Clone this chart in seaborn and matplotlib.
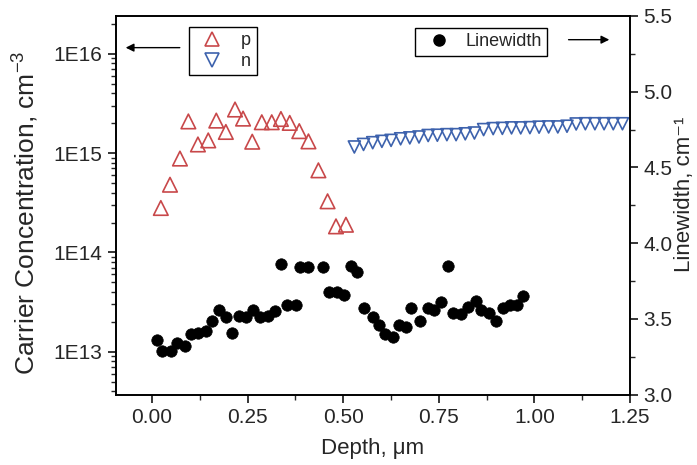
import numpy as np
import matplotlib
matplotlib.use("Agg")
import matplotlib.pyplot as plt
import matplotlib.ticker as mticker
from matplotlib.lines import Line2D
import seaborn as sns

# p-type carrier concentration (left axis)
p_depth = [0.023, 0.047, 0.073, 0.095, 0.120, 0.147, 0.168, 0.193, 0.217, 0.238, 0.262,
           0.287, 0.313, 0.337, 0.360, 0.385, 0.409, 0.435, 0.459, 0.481, 0.507]
p_conc = [2.8e14, 4.8e14, 8.8e14, 2.08e15, 1.22e15, 1.34e15, 2.12e15, 1.63e15, 2.74e15, 2.22e15, 1.30e15,
          2.04e15, 2.04e15, 2.20e15, 2.01e15, 1.66e15, 1.31e15, 6.7e14, 3.27e14, 1.83e14, 1.90e14]

# n-type carrier concentration (left axis)
n_depth = [0.529, 0.553, 0.577, 0.601, 0.625, 0.650, 0.674, 0.698, 0.722, 0.746,
           0.771, 0.795, 0.819, 0.843, 0.867, 0.892, 0.916, 0.940, 0.964, 0.988,
           1.012, 1.037, 1.061, 1.085, 1.109, 1.133, 1.158, 1.182, 1.206, 1.230]
n_conc = [1.15e15, 1.22e15, 1.27e15, 1.31e15, 1.34e15, 1.39e15, 1.42e15, 1.45e15, 1.50e15, 1.51e15,
          1.53e15, 1.53e15, 1.56e15, 1.59e15, 1.72e15, 1.76e15, 1.77e15, 1.79e15, 1.79e15, 1.80e15,
          1.82e15, 1.83e15, 1.83e15, 1.86e15, 1.96e15, 1.97e15, 1.97e15, 1.97e15, 1.97e15, 1.97e15]

# Raman linewidth (right axis)
lw_depth = [0.012, 0.027, 0.049, 0.066, 0.086, 0.101, 0.121, 0.141, 0.158, 0.175,
            0.193, 0.210, 0.228, 0.245, 0.264, 0.282, 0.302, 0.321, 0.337, 0.354,
            0.376, 0.387, 0.409, 0.446, 0.463, 0.484, 0.503, 0.520, 0.537, 0.555,
            0.577, 0.594, 0.610, 0.629, 0.647, 0.664, 0.677, 0.701, 0.721, 0.738,
            0.756, 0.773, 0.788, 0.808, 0.825, 0.846, 0.861, 0.880, 0.900, 0.917,
            0.936, 0.954, 0.971]
lw_value = [3.36, 3.29, 3.29, 3.34, 3.32, 3.40, 3.41, 3.42, 3.49, 3.56,
            3.51, 3.41, 3.52, 3.51, 3.56, 3.51, 3.52, 3.55, 3.86, 3.59,
            3.59, 3.84, 3.84, 3.84, 3.68, 3.68, 3.66, 3.85, 3.81, 3.57,
            3.51, 3.46, 3.40, 3.38, 3.46, 3.45, 3.57, 3.49, 3.57, 3.56,
            3.61, 3.85, 3.54, 3.53, 3.58, 3.62, 3.56, 3.54, 3.49, 3.57,
            3.59, 3.59, 3.65]

RED = "#c8484a"
BLUE = "#3d62ad"

sns.set_style("ticks")
plt.rcParams['font.family'] = ['Liberation Sans', 'DejaVu Sans']
plt.rcParams['mathtext.default'] = 'regular'

fig = plt.figure(figsize=(6.97, 4.65), dpi=100)
ax = fig.add_axes([0.166, 0.151, 0.738, 0.815])
ax2 = ax.twinx()

sns.scatterplot(x=p_depth, y=p_conc, ax=ax, marker='^', s=110,
                facecolor='none', edgecolor=RED, linewidth=1.2, legend=False)
sns.scatterplot(x=n_depth, y=n_conc, ax=ax, marker='v', s=75,
                facecolor='none', edgecolor=BLUE, linewidth=1.2, legend=False)
sns.scatterplot(x=lw_depth, y=lw_value, ax=ax2, marker='o', s=68,
                color='black', edgecolor='black', linewidth=0.5, legend=False)

# left axis (log)
ax.set_yscale('log')
ax.set_ylim(3.7e12, 2.4e16)
ax.yaxis.set_major_locator(mticker.LogLocator(base=10))
ax.yaxis.set_major_formatter(mticker.FuncFormatter(lambda v, _: f"1E{int(round(np.log10(v)))}"))
ax.yaxis.set_minor_locator(mticker.LogLocator(base=10, subs=np.arange(2, 10)))
ax.yaxis.set_minor_formatter(mticker.NullFormatter())

ax.set_xlim(-0.095, 1.25)
ax.xaxis.set_major_locator(mticker.MultipleLocator(0.25))
ax.xaxis.set_major_formatter(mticker.FormatStrFormatter('%.2f'))
ax.xaxis.set_minor_locator(mticker.MultipleLocator(0.125))

# right axis
ax2.set_ylim(3.0, 5.5)
ax2.yaxis.set_major_locator(mticker.MultipleLocator(0.5))
ax2.yaxis.set_major_formatter(mticker.FormatStrFormatter('%.1f'))
ax2.yaxis.set_minor_locator(mticker.MultipleLocator(0.25))

for a in (ax, ax2):
    a.tick_params(which='major', direction='out', length=6, width=1.1, labelsize=15, color='black')
    a.tick_params(which='minor', direction='out', length=3.5, width=1.0)
    for s in a.spines.values():
        s.set_visible(True)
        s.set_linewidth(1.2)
        s.set_color('black')

ax.set_xlabel("Depth, μm", fontsize=16, labelpad=8)
ax.set_ylabel("Carrier Concentration, cm$^{-3}$", fontsize=19)
ax.yaxis.set_label_coords(-0.145, 0.48)

# right label: squeeze it between the tick labels and the figure edge
rlabel = ax2.set_ylabel("Linewidth, cm⁻¹", fontsize=17)
ax_w = ax.get_position().width * fig.get_figwidth() * fig.dpi
fig_w = fig.get_figwidth() * fig.dpi
for fs in [17, 16.5, 16, 15.5, 15, 14.5, 14]:
    rlabel.set_fontsize(fs)
    ax2.yaxis.set_label_coords(1.07, 0.53)
    fig.canvas.draw()
    r = fig.canvas.get_renderer()
    tick_x1 = max(t.get_window_extent(r).x1 for t in ax2.get_yticklabels() if t.get_text())
    bb = rlabel.get_window_extent(r)
    if bb.width <= fig_w - 2 - (tick_x1 + 1):
        break
left_px = fig_w - 2 - bb.width
ax2.yaxis.set_label_coords(1.07 + (left_px - bb.x0) / ax_w, 0.53)

# legends
h_pn = [Line2D([], [], marker='^', ls='', mfc='none', mec=RED, ms=10, mew=1.2),
        Line2D([], [], marker='v', ls='', mfc='none', mec=BLUE, ms=10, mew=1.2)]
leg1 = ax2.legend(h_pn, ['p', 'n'], loc='upper left', bbox_to_anchor=(0.142, 0.971),
                  borderaxespad=0, fancybox=False, edgecolor='black', framealpha=1,
                  fontsize=13, handletextpad=0.6, labelspacing=0.2, borderpad=0.3)
leg1.get_frame().set_linewidth(1.0)
ax2.add_artist(leg1)

h_lw = [Line2D([], [], marker='o', ls='', color='black', ms=8)]
leg2 = ax2.legend(h_lw, ['Linewidth'], loc='upper left', bbox_to_anchor=(0.582, 0.968),
                  borderaxespad=0, fancybox=False, edgecolor='black', framealpha=1,
                  fontsize=13, handletextpad=0.5, borderpad=0.3)
leg2.get_frame().set_linewidth(1.0)

# arrows pointing to each axis
ax2.annotate('', xy=(0.014, 0.916), xytext=(0.130, 0.916), xycoords='axes fraction',
             arrowprops=dict(arrowstyle='-|>', color='black', lw=1.0, mutation_scale=12))
ax2.annotate('', xy=(0.965, 0.937), xytext=(0.875, 0.937), xycoords='axes fraction',
             arrowprops=dict(arrowstyle='-|>', color='black', lw=1.0, mutation_scale=12))

fig.savefig("out.png", dpi=100)
